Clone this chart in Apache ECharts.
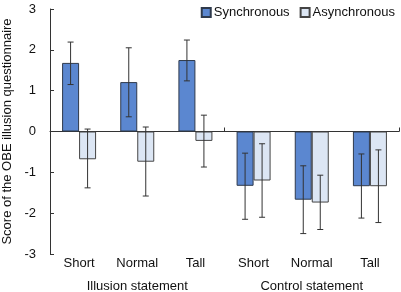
<!DOCTYPE html>
<html>
<head>
<meta charset="utf-8">
<script src="https://cdn.jsdelivr.net/npm/echarts@6/dist/echarts.min.js"></script>
<style>
  html, body { margin: 0; padding: 0; background: #fff; }
  #chart { width: 401px; height: 292px; }
</style>
</head>
<body>
<div id="chart"></div>
<script>
// categories
const conditions = ['Short', 'Normal', 'Tall', 'Short', 'Normal', 'Tall']
const groups = ['Illusion statement', 'Control statement']
const yTicks = [-3, -2, -1, 0, 1, 2, 3]

// mean scores
const syncMean = [1.68, 1.21, 1.75, -1.33, -1.67, -1.34]
const asyncMean = [-0.68, -0.74, -0.23, -1.20, -1.74, -1.34]

// error bar ends [low, high]
const syncErr = [[1.15, 2.19], [0.36, 2.05], [1.24, 2.24], [-2.15, -0.53], [-2.50, -0.84], [-2.12, -0.55]]
const asyncErr = [[-1.38, 0.06], [-1.58, 0.11], [-0.87, 0.40], [-2.10, -0.30], [-2.40, -1.07], [-2.23, -0.45]]

const font = 'Arial, "Liberation Sans", sans-serif'
const barW = 17

// 误差线 (offset: -1 左柱, 1 右柱)
function errorBar (offset) {
    return function (params, api) {
        let i = api.value(0)
        let lo = api.coord([i, api.value(1)])
        let hi = api.coord([i, api.value(2)])
        let x = lo[0] + offset * barW / 2
        let cap = 3
        let style = { stroke: '#333', lineWidth: 1 }
        return {
            type: 'group',
            children: [
                { type: 'line', shape: { x1: x, y1: lo[1], x2: x, y2: hi[1] }, style: style },
                { type: 'line', shape: { x1: x - cap, y1: lo[1], x2: x + cap, y2: lo[1] }, style: style },
                { type: 'line', shape: { x1: x - cap, y1: hi[1], x2: x + cap, y2: hi[1] }, style: style }
            ]
        }
    }
}

let myChart = echarts.init(document.getElementById('chart'))
myChart.setOption({
    animation: false,
    textStyle: { fontFamily: font },
    legend: {
        data: ['Synchronous', 'Asynchronous'],
        top: 1,
        right: 1,
        icon: 'rect',
        itemWidth: 9,
        itemHeight: 9,
        itemGap: 10,
        textStyle: { fontSize: 13, color: '#111', fontFamily: font, padding: [0, 0, 0, -2] }
    },
    grid: { left: 50, right: 2, top: 9, bottom: 38, outerBoundsMode: 'none', containLabel: false },
    xAxis: [
        {
            // 类别标签
            type: 'category',
            data: conditions,
            position: 'bottom',
            axisLine: { show: false, onZero: false },
            axisTick: { show: false },
            axisLabel: { fontSize: 13, color: '#111', margin: 3, interval: 0 }
        },
        {
            // 零线
            type: 'category',
            data: conditions,
            axisLine: { onZero: true, lineStyle: { color: '#333', width: 1 } },
            axisTick: {
                show: true,
                length: 4,
                lineStyle: { color: '#333' },
                interval: function (index) { return index === 0 || index === 3 }
            },
            axisLabel: { show: false }
        },
        {
            // 分组标签
            type: 'category',
            data: groups,
            position: 'bottom',
            offset: 24,
            axisLine: { show: false, onZero: false },
            axisTick: { show: false },
            axisLabel: { fontSize: 13, color: '#111', margin: 2, interval: 0 }
        }
    ],
    yAxis: {
        type: 'value',
        min: -3,
        max: 3,
        interval: 1,
        name: 'Score of the OBE illusion questionnaire',
        nameLocation: 'middle',
        nameGap: 36,
        nameTextStyle: { fontSize: 13, color: '#111' },
        axisLine: { show: true, lineStyle: { color: '#333' } },
        axisTick: { show: true, inside: true, length: 4, lineStyle: { color: '#333' } },
        axisLabel: {
            fontSize: 13,
            color: '#111',
            margin: 14,
            formatter: function (v) { return yTicks.indexOf(v) >= 0 ? String(v) : '' }
        },
        splitLine: { show: false }
    },
    series: [
        {
            name: 'Synchronous',
            type: 'bar',
            data: syncMean,
            barWidth: barW,
            barGap: '0%',
            itemStyle: { color: '#5b87d0', borderColor: '#2f3a4c', borderWidth: 1 }
        },
        {
            name: 'Asynchronous',
            type: 'bar',
            data: asyncMean,
            barWidth: barW,
            barGap: '0%',
            itemStyle: { color: '#dce6f4', borderColor: '#444', borderWidth: 1 }
        },
        {
            type: 'custom',
            renderItem: errorBar(-1),
            data: syncErr.map(function (d, i) { return [i, d[0], d[1]] }),
            z: 5
        },
        {
            type: 'custom',
            renderItem: errorBar(1),
            data: asyncErr.map(function (d, i) { return [i, d[0], d[1]] }),
            z: 5
        }
    ]
})
</script>
</body>
</html>
